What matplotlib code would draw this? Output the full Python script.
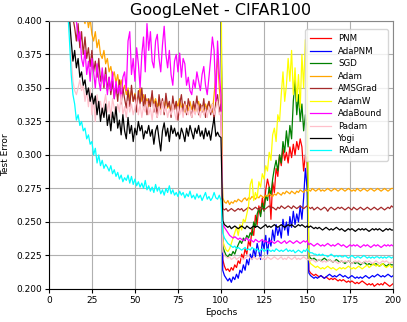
import numpy as np
import matplotlib
matplotlib.use('Agg')
import matplotlib.pyplot as plt

# test error per epoch, in thousandths (epochs 1..200)
epochs = list(range(1, 201))

pnm = [800, 760, 720, 690, 660, 640, 620, 600, 585, 570, 560, 550, 540, 532, 525, 518, 512, 506, 500, 496,
       492, 488, 484, 480, 478, 475, 472, 470, 468, 466, 464, 462, 460, 458, 456, 455, 453, 452, 450, 449,
       448, 447, 446, 445, 444, 443, 442, 441, 440, 440, 439, 438, 437, 437, 436, 435, 435, 434, 433, 433,
       432, 432, 431, 430, 430, 429, 429, 428, 428, 427, 427, 426, 426, 425, 425, 424, 424, 423, 423, 422,
       422, 422, 421, 421, 420, 420, 420, 419, 419, 418, 418, 418, 417, 417, 417, 416, 416, 416, 415, 415,
       222, 217, 214, 215, 213, 216, 214, 218, 216, 221, 219, 226, 223, 230, 226, 236, 232, 245, 240, 255,
       248, 262, 256, 268, 260, 274, 282, 276, 252, 280, 272, 290, 284, 300, 292, 305, 296, 302, 294, 306,
       298, 308, 300, 310, 304, 312, 306, 288, 300, 296,
       214, 212, 211, 210, 211, 210, 209, 210, 209, 208, 209, 208, 207, 208, 207, 208, 207, 206, 207, 206,
       207, 206, 205, 206, 205, 206, 205, 204, 205, 204, 205, 206, 205, 204, 203, 204, 203, 204, 202, 203,
       204, 203, 204, 203, 205, 204, 203, 202, 203, 204]

adapnm = [780, 740, 700, 670, 645, 625, 605, 590, 575, 562, 552, 542, 534, 526, 519, 512, 506, 500, 495, 490,
          486, 482, 478, 475, 472, 469, 466, 464, 462, 460, 458, 456, 454, 452, 451, 449, 448, 446, 445, 444,
          443, 442, 441, 440, 439, 438, 437, 436, 435, 435, 434, 433, 432, 432, 431, 430, 430, 429, 428, 428,
          427, 427, 426, 426, 425, 425, 424, 424, 423, 423, 422, 422, 421, 421, 420, 420, 420, 419, 419, 418,
          418, 418, 417, 417, 416, 416, 416, 415, 415, 415, 414, 414, 414, 413, 413, 413, 412, 412, 412, 411,
          214, 210, 208, 206, 208, 205, 209, 207, 211, 208, 214, 212, 218, 214, 222, 218, 226, 222, 230, 224,
          234, 228, 222, 236, 230, 240, 226, 238, 232, 244, 236, 248, 240, 246, 238, 252, 244, 250, 240, 254,
          246, 258, 248, 256, 250, 262, 252, 268, 290, 275,
          212, 210, 209, 208, 209, 208, 209, 210, 209, 208, 209, 210, 211, 210, 209, 210, 209, 210, 211, 210,
          209, 210, 209, 208, 209, 210, 209, 208, 209, 208, 209, 208, 209, 210, 209, 208, 209, 210, 209, 210,
          211, 210, 209, 210, 209, 210, 211, 210, 209, 210]

sgd = [820, 780, 740, 705, 675, 650, 630, 612, 596, 582, 570, 560, 550, 542, 535, 528, 522, 516, 511, 506,
       502, 498, 494, 491, 488, 485, 482, 480, 478, 476, 474, 472, 470, 468, 466, 465, 463, 462, 460, 459,
       458, 457, 456, 455, 454, 453, 452, 451, 450, 449, 448, 447, 446, 446, 445, 444, 444, 443, 442, 442,
       441, 441, 440, 440, 439, 439, 438, 438, 437, 437, 436, 436, 435, 435, 434, 434, 434, 433, 433, 432,
       432, 432, 431, 431, 430, 430, 430, 429, 429, 429, 428, 428, 428, 427, 427, 427, 426, 426, 426, 425,
       232, 228, 225, 224, 226, 225, 228, 226, 230, 233, 236, 234, 238, 236, 240, 238, 242, 240, 250, 246,
       256, 260, 254, 264, 258, 270, 266, 276, 270, 282, 290, 296, 288, 300, 294, 310, 302, 318, 306, 322,
       312, 340, 356, 330, 345, 325, 338, 318, 330, 320,
       225, 223, 222, 223, 222, 221, 222, 221, 222, 223, 222, 221, 222, 221, 220, 221, 222, 221, 220, 221,
       220, 219, 220, 221, 220, 219, 220, 219, 220, 219, 218, 219, 220, 219, 218, 219, 218, 219, 218, 219,
       218, 217, 218, 219, 218, 217, 218, 219, 218, 218]

adam = [700, 620, 570, 530, 500, 480, 465, 450, 440, 432, 425, 420, 415, 412, 410, 408, 405, 403, 401, 402,
        398, 405, 395, 402, 390, 385, 392, 380, 386, 375, 372, 378, 368, 372, 362, 366, 358, 362, 354, 360,
        350, 356, 348, 352, 345, 350, 342, 348, 340, 346, 338, 344, 350, 340, 345, 338, 342, 336, 340, 345,
        338, 342, 336, 340, 334, 340, 336, 342, 335, 338, 332, 339, 334, 340, 336, 342, 335, 338, 332, 337,
        333, 340, 334, 338, 331, 336, 340, 333, 337, 332, 338, 334, 340, 335, 332, 345, 360, 372, 350, 335,
        268, 265, 264, 266, 263, 265, 264, 266, 265, 267, 266, 265, 267, 268, 266, 268, 267, 269, 268, 267,
        269, 268, 270, 269, 268, 270, 269, 271, 270, 269, 271, 270, 272, 271, 270, 272, 271, 273, 272, 271,
        273, 272, 271, 273, 272, 274, 273, 272, 274, 273,
        274, 273, 275, 274, 273, 274, 275, 273, 274, 273, 274, 275, 274, 273, 274, 275, 274, 273, 274, 275,
        274, 273, 274, 275, 274, 273, 274, 273, 275, 274, 273, 274, 275, 274, 273, 274, 275, 274, 273, 274,
        275, 274, 273, 274, 275, 274, 273, 274, 275, 275]

amsgrad = [700, 620, 570, 530, 500, 475, 455, 440, 428, 420, 413, 408, 404, 402, 395, 385, 398, 380, 392, 375,
           388, 372, 380, 366, 378, 362, 370, 358, 372, 355, 362, 350, 365, 348, 358, 345, 355, 342, 352, 340,
           356, 338, 350, 342, 335, 348, 336, 352, 340, 345, 332, 348, 338, 350, 335, 345, 330, 342, 336, 348,
           332, 340, 328, 345, 335, 342, 330, 346, 336, 340, 328, 344, 334, 340, 326, 338, 345, 332, 340, 330,
           342, 335, 328, 340, 334, 344, 330, 338, 332, 342, 328, 336, 340, 330, 338, 326, 340, 345, 332, 338,
           260, 259, 260, 258, 259, 260, 259, 258, 259, 260, 259, 260, 258, 259, 260, 261, 260, 259, 260, 261,
           260, 259, 261, 260, 259, 260, 261, 262, 260, 261, 260, 259, 261, 260, 262, 261, 260, 261, 262, 261,
           260, 262, 261, 260, 261, 262, 261, 260, 261, 262,
           261, 260, 261, 259, 260, 261, 260, 259, 260, 261, 260, 258, 260, 261, 260, 259, 260, 261, 260, 261,
           260, 259, 260, 261, 260, 259, 261, 260, 259, 260, 261, 260, 259, 260, 261, 260, 259, 260, 261, 260,
           259, 260, 261, 260, 259, 260, 261, 260, 262, 261]

adamw = [850, 800, 760, 725, 695, 670, 650, 632, 616, 602, 590, 580, 570, 562, 555, 548, 542, 536, 531, 526,
         522, 518, 514, 511, 508, 505, 502, 500, 498, 496, 494, 492, 490, 488, 486, 485, 483, 482, 480, 479,
         478, 477, 476, 475, 474, 473, 472, 471, 470, 469, 468, 467, 466, 466, 465, 464, 464, 463, 462, 462,
         461, 461, 460, 460, 459, 459, 458, 458, 457, 457, 456, 456, 455, 455, 454, 454, 454, 453, 453, 452,
         452, 452, 451, 451, 450, 450, 450, 449, 449, 449, 448, 448, 448, 447, 447, 447, 446, 446, 446, 445,
         236, 232, 229, 228, 230, 234, 238, 242, 246, 240, 248, 244, 252, 250, 256, 262, 278, 282, 266, 272,
         268, 280, 276, 286, 282, 292, 288, 302, 296, 315, 320, 310, 330, 325, 345, 362, 340, 352, 372, 355,
         378, 345, 365, 340, 360, 335, 375, 350, 386, 372,
         222, 219, 218, 217, 216, 217, 216, 215, 216, 215, 216, 217, 216, 215, 216, 215, 214, 215, 216, 215,
         216, 215, 216, 217, 216, 215, 216, 215, 216, 217, 216, 215, 216, 217, 218, 216, 217, 218, 219, 217,
         218, 217, 218, 219, 217, 216, 217, 218, 216, 217]

adabound = [700, 630, 580, 540, 510, 485, 465, 450, 438, 428, 420, 414, 409, 405, 402, 400, 385, 392, 372, 366,
            378, 360, 370, 355, 372, 362, 350, 368, 356, 348, 365, 352, 360, 345, 358, 348, 362, 342, 355, 346,
            352, 340, 358, 362, 348, 385, 392, 360, 372, 355, 380, 368, 350, 375, 388, 362, 398, 378, 392, 370,
            365, 385, 390, 372, 362, 382, 396, 375, 365, 378, 360, 352, 370, 375, 362, 376, 358, 372, 368, 352,
            358, 348, 345, 356, 350, 362, 355, 348, 360, 366, 352, 345, 358, 372, 388, 378, 340, 385, 360, 345,
            248, 246, 244, 242, 240, 239, 238, 239, 238, 237, 238, 237, 236, 237, 238, 236, 237, 236, 235, 237,
            236, 235, 236, 237, 235, 236, 235, 234, 236, 235, 234, 235, 236, 235, 234, 235, 236, 234, 235, 236,
            235, 234, 235, 236, 235, 234, 235, 236, 235, 236,
            233, 234, 233, 232, 233, 234, 233, 232, 233, 232, 233, 234, 233, 232, 233, 232, 233, 234, 233, 232,
            233, 232, 231, 232, 233, 232, 233, 232, 233, 232, 231, 232, 233, 232, 233, 232, 231, 232, 233, 232,
            233, 232, 231, 232, 233, 232, 233, 232, 233, 232]

padam = [700, 600, 540, 500, 470, 445, 425, 412, 406, 403, 401, 395, 372, 355, 348, 345, 350, 356, 348, 352,
         340, 348, 336, 350, 330, 342, 325, 345, 335, 340, 330, 338, 345, 332, 340, 328, 342, 335, 330, 338,
         332, 345, 330, 336, 328, 340, 332, 338, 330, 335, 342, 330, 338, 328, 336, 332, 340, 330, 335, 326,
         338, 332, 328, 336, 330, 340, 332, 336, 328, 334, 330, 338, 332, 326, 336, 330, 335, 328, 338, 332,
         330, 336, 328, 334, 330, 338, 332, 328, 336, 330, 334, 328, 336, 332, 338, 330, 335, 340, 330, 332,
         228, 225, 224, 223, 224, 222, 223, 224, 222, 223, 224, 223, 222, 223, 224, 225, 223, 222, 224, 223,
         222, 223, 224, 222, 223, 222, 224, 223, 222, 223, 224, 223, 222, 223, 224, 222, 223, 222, 224, 223,
         222, 223, 224, 222, 223, 222, 223, 224, 223, 222,
         222, 221, 222, 221, 220, 221, 222, 221, 220, 221, 220, 221, 222, 221, 220, 221, 220, 219, 220, 221,
         220, 221, 220, 221, 220, 219, 220, 221, 220, 221, 220, 219, 220, 221, 220, 221, 220, 219, 220, 221,
         220, 219, 220, 221, 220, 221, 220, 219, 220, 220]

yogi = [700, 620, 560, 520, 490, 470, 450, 435, 425, 415, 408, 402, 385, 370, 378, 365, 372, 358, 362, 352,
        356, 345, 350, 340, 346, 338, 344, 330, 340, 325, 335, 328, 338, 322, 330, 318, 332, 324, 336, 320,
        326, 315, 330, 318, 312, 328, 316, 322, 310, 320, 315, 325, 318, 322, 312, 318, 316, 322, 314, 319,
        308, 318, 322, 312, 303, 318, 324, 314, 320, 310, 322, 316, 320, 314, 317, 312, 320, 316, 310, 320,
        314, 322, 317, 312, 320, 316, 322, 314, 318, 312, 320, 314, 318, 311, 320, 328, 314, 317, 314, 313,
        251, 248, 247, 246, 247, 245, 246, 247, 246, 245, 246, 247, 246, 245, 247, 246, 245, 246, 247, 246,
        247, 246, 245, 246, 247, 248, 246, 247, 246, 247, 248, 247, 246, 247, 248, 247, 246, 247, 248, 247,
        248, 247, 246, 247, 248, 247, 248, 247, 246, 247,
        246, 247, 246, 245, 246, 245, 246, 245, 244, 245, 246, 245, 244, 245, 244, 245, 246, 245, 244, 245,
        244, 243, 244, 245, 244, 245, 244, 243, 244, 245, 244, 245, 244, 245, 244, 243, 244, 245, 244, 245,
        244, 245, 244, 243, 244, 245, 244, 245, 244, 244]

radam = [700, 620, 570, 530, 500, 480, 460, 445, 430, 418, 408, 385, 360, 345, 338, 326, 330, 322, 325, 318,
         320, 312, 315, 308, 310, 300, 305, 294, 300, 292, 296, 290, 293, 291, 288, 292, 286, 289, 284, 287,
         282, 285, 280, 283, 281, 285, 279, 284, 278, 282, 277, 280, 276, 279, 275, 281, 274, 277, 273, 276,
         272, 278, 273, 276, 271, 274, 270, 275, 272, 277, 271, 274, 270, 272, 269, 273, 270, 272, 268, 271,
         269, 273, 268, 270, 267, 271, 268, 270, 266, 269, 272, 267, 269, 266, 268, 272, 268, 267, 270, 266,
         242, 238, 236, 234, 233, 232, 231, 232, 230, 231, 230, 229, 230, 231, 229, 230, 229, 231, 230, 229,
         230, 228, 229, 230, 228, 229, 230, 229, 228, 229, 228, 230, 229, 228, 229, 228, 229, 230, 228, 229,
         228, 229, 227, 228, 229, 228, 227, 229, 228, 230,
         228, 227, 227, 226, 226, 225, 226, 225, 226, 225, 225, 224, 225, 226, 225, 224, 225, 224, 225, 224,
         224, 225, 224, 223, 224, 225, 224, 223, 224, 224, 223, 224, 225, 224, 223, 224, 223, 224, 223, 224,
         224, 223, 224, 223, 224, 223, 224, 224, 223, 224]

names = ['PNM', 'AdaPNM', 'SGD', 'Adam', 'AMSGrad', 'AdamW', 'AdaBound', 'Padam', 'Yogi', 'RAdam']
series = [pnm, adapnm, sgd, adam, amsgrad, adamw, adabound, padam, yogi, radam]
colors = ['red', 'blue', 'green', 'orange', 'brown', 'yellow', 'magenta', 'pink', 'black', 'cyan']

fig = plt.figure(figsize=(4.07, 3.22), dpi=100)
ax = fig.add_axes([0.120, 0.1025, 0.846, 0.8325])

for name, vals, c in zip(names, series, colors):
    ax.plot(epochs, np.array(vals) / 1000.0, color=c, lw=0.9, label=name)

ax.set_xlim(0, 200)
ax.set_ylim(0.2, 0.4)
ax.set_xticks(range(0, 201, 25))
ax.set_yticks(np.arange(0.2, 0.4001, 0.025))
ax.yaxis.set_major_formatter(matplotlib.ticker.FormatStrFormatter('%.3f'))
ax.grid(True, color='#b0b0b0', lw=0.8)
ax.tick_params(labelsize=6.5, length=3, width=0.8, pad=2)
for s in ['top', 'right']:
    ax.spines[s].set_color('#888888')
ax.set_title('GoogLeNet - CIFAR100', fontsize=11.5, pad=4)
ax.set_xlabel('Epochs', fontsize=6.5, labelpad=2)
ax.set_ylabel('Test Error', fontsize=6.5, labelpad=4)
ax.legend(loc='upper right', fontsize=6.2, handlelength=2.4, labelspacing=0.4,
          borderpad=0.6, handletextpad=0.9, bbox_to_anchor=(0.997, 0.985))

plt.savefig('out.png', dpi=100)
plt.close()
